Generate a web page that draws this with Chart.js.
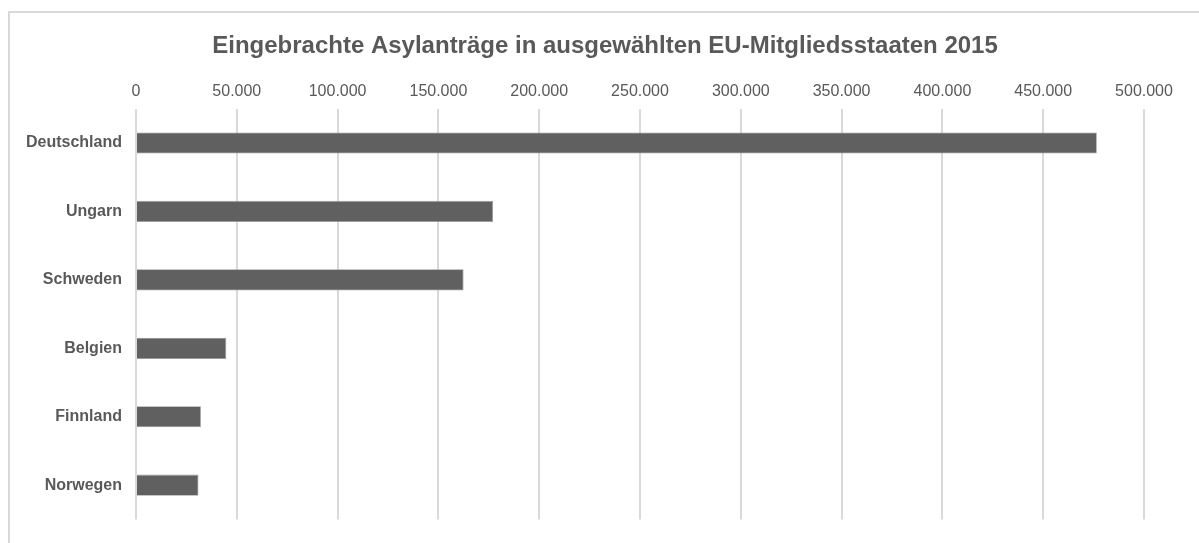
<!DOCTYPE html>
<html lang="de">
<head>
<meta charset="utf-8">
<title>Asylanträge 2015</title>
<script src="https://cdn.jsdelivr.net/npm/chart.js@4"></script>
<style>
  html, body { margin: 0; padding: 0; background: #fff; }
  #wrap { position: relative; width: 1199px; height: 543px; overflow: hidden; }
  #frame { position: absolute; left: 8px; top: 11px; width: 1400px; height: 800px;
           border-left: 2px solid #d9d9d9; border-top: 2px solid #d9d9d9; }
  #asylChart { position: absolute; left: 0; top: 0; }
</style>
</head>
<body>
<div id="wrap">
  <div id="frame"></div>
  <canvas id="asylChart" width="1199" height="543"></canvas>
</div>
<script>
  // Daten
  const laender = ['Deutschland', 'Ungarn', 'Schweden', 'Belgien', 'Finnland', 'Norwegen'];
  const antraege = [476600, 177100, 162500, 44800, 32200, 31000];
  const achseMax = 500000;
  const achseSchritt = 50000;

  const grau = '#595959';
  const fontFam = '"Liberation Sans", Arial, sans-serif';

  // 50000 -> "50.000"
  function formatDE(v){
    return String(Math.round(v)).replace(/\B(?=(\d{3})+(?!\d))/g, '.');
  }

  // Titel etwas nach rechts schieben (im Original nicht über der ganzen Breite zentriert)
  const titleShift = {
    id: 'titleShift',
    afterLayout(chart){
      if (chart.titleBlock) chart.titleBlock.left += 66;
    }
  };

  const ctx = document.getElementById('asylChart').getContext('2d');
  new Chart(ctx, {
    type: 'bar',
    data: {
      labels: laender,
      datasets: [{
        label: 'Asylanträge',
        data: antraege,
        backgroundColor: '#606060',
        borderColor: '#9a9a9a',
        borderWidth: 0.8,
        barPercentage: 0.31,
        categoryPercentage: 1
      }]
    },
    options: {
      indexAxis: 'y',
      responsive: false,
      animation: false,
      devicePixelRatio: 1,
      layout: { padding: { left: 0, right: 55, top: 0, bottom: 23 } },
      scales: {
        x: {
          position: 'top',
          min: 0,
          max: achseMax,
          afterFit: function(scale){ scale.height = 40; },
          ticks: {
            stepSize: achseSchritt,
            color: grau,
            padding: 8,
            font: { family: fontFam, size: 16 },
            callback: function(v){ return formatDE(v); }
          },
          grid: { color: '#d9d9d9', lineWidth: 2, drawTicks: false },
          border: { display: false }
        },
        y: {
          afterFit: function(scale){ scale.width = 136; },
          ticks: {
            color: grau,
            padding: 14,
            font: { family: fontFam, size: 16, weight: 'bold' }
          },
          grid: { display: false, drawTicks: false },
          border: { display: false }
        }
      },
      plugins: {
        legend: { display: false },
        tooltip: { enabled: false },
        title: {
          display: true,
          text: 'Eingebrachte Asylanträge in ausgewählten EU-Mitgliedsstaaten 2015',
          color: grau,
          font: { family: fontFam, size: 24, weight: 'bold' },
          padding: { top: 32, bottom: 8 }
        }
      }
    },
    plugins: [titleShift]
  });
</script>
</body>
</html>
